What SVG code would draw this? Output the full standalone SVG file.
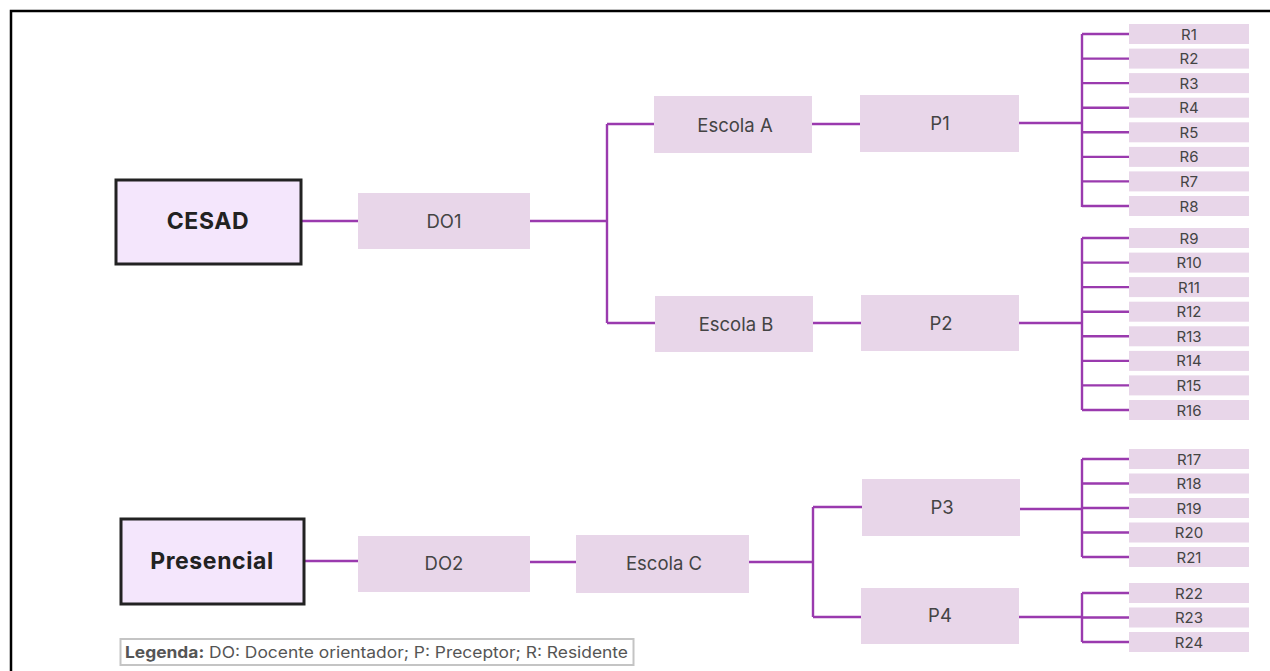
<svg xmlns="http://www.w3.org/2000/svg" width="1270" height="671" viewBox="0 0 1270 671">
<style>
.bx{fill:#e8d6e9;}
.root{fill:#f4e6fc;stroke:#222;stroke-width:3;}
.t{font-family:Inter,"Noto Sans",sans-serif;fill:#444;text-anchor:middle;dominant-baseline:central;}
.m{font-size:18.5px;}
.r{font-size:15px;}
.rt{font-size:23px;font-weight:700;fill:#222;letter-spacing:0.6px;}
.c{fill:none;stroke:#9a3aae;stroke-width:2.4;}
.lg{font-family:Inter,"Noto Sans",sans-serif;font-size:16px;fill:#555;}
</style>
<rect width="1270" height="671" fill="#fff"/>
<path d="M11 671V11H1270" fill="none" stroke="#000" stroke-width="2.5"/>

<g id="connectors">
<path class="c" d="M301 221H358M530 221H607M607 124V323M607 124H654M607 323H655M812 124H860M813 323H861"/>
<path class="c" d="M1019 123H1082M1082 34V207"/>
<path class="c" d="M1082 34H1129M1082 58.6H1129M1082 83.1H1129M1082 107.7H1129M1082 132.3H1129M1082 156.9H1129M1082 181.4H1129M1082 206H1129"/>
<path class="c" d="M1019 323H1082M1082 238V410"/>
<path class="c" d="M1082 238H1129M1082 262.6H1129M1082 287.1H1129M1082 311.7H1129M1082 336.3H1129M1082 360.9H1129M1082 385.4H1129M1082 410H1129"/>
<path class="c" d="M304 561H358M530 562H576M749 562H813M813 507V617M813 507H862M813 617H862"/>
<path class="c" d="M1020 509H1082M1082 459V557M1082 459H1129M1082 483.5H1129M1082 508H1129M1082 532.5H1129M1082 557H1129"/>
<path class="c" d="M1019 617H1082M1082 593V642M1082 593H1129M1082 617.5H1129M1082 642H1129"/>
</g>

<g id="cesad"><rect class="root" x="116" y="180" width="185" height="84"/><text class="t rt" x="208" y="221">CESAD</text></g>
<g id="presencial"><rect class="root" x="121" y="519" width="183" height="85"/><text class="t rt" x="212" y="561">Presencial</text></g>
<g id="do1"><rect class="bx" x="358" y="193" width="172" height="56"/><text class="t m" x="444" y="221">DO1</text></g>
<g id="do2"><rect class="bx" x="358" y="536" width="172" height="56"/><text class="t m" x="444" y="563">DO2</text></g>
<g id="escolaA"><rect class="bx" x="654" y="96" width="158" height="57"/><text class="t m" x="735" y="125">Escola A</text></g>
<g id="escolaB"><rect class="bx" x="655" y="296" width="158" height="56"/><text class="t m" x="736" y="324">Escola B</text></g>
<g id="escolaC"><rect class="bx" x="576" y="535" width="173" height="58"/><text class="t m" x="664" y="563">Escola C</text></g>
<g id="p1"><rect class="bx" x="860" y="95" width="159" height="57"/><text class="t m" x="940" y="123">P1</text></g>
<g id="p2"><rect class="bx" x="861" y="295" width="158" height="56"/><text class="t m" x="941" y="323">P2</text></g>
<g id="p3"><rect class="bx" x="862" y="479" width="158" height="57"/><text class="t m" x="942" y="507">P3</text></g>
<g id="p4"><rect class="bx" x="861" y="588" width="158" height="56"/><text class="t m" x="940" y="615">P4</text></g>

<g id="r1"><rect class="bx" x="1129" y="24" width="120" height="20"/><text class="t r" x="1189" y="34">R1</text></g>
<g id="r2"><rect class="bx" x="1129" y="48.6" width="120" height="20"/><text class="t r" x="1189" y="58.6">R2</text></g>
<g id="r3"><rect class="bx" x="1129" y="73.1" width="120" height="20"/><text class="t r" x="1189" y="83.1">R3</text></g>
<g id="r4"><rect class="bx" x="1129" y="97.7" width="120" height="20"/><text class="t r" x="1189" y="107.7">R4</text></g>
<g id="r5"><rect class="bx" x="1129" y="122.3" width="120" height="20"/><text class="t r" x="1189" y="132.3">R5</text></g>
<g id="r6"><rect class="bx" x="1129" y="146.9" width="120" height="20"/><text class="t r" x="1189" y="156.9">R6</text></g>
<g id="r7"><rect class="bx" x="1129" y="171.4" width="120" height="20"/><text class="t r" x="1189" y="181.4">R7</text></g>
<g id="r8"><rect class="bx" x="1129" y="196" width="120" height="20"/><text class="t r" x="1189" y="206">R8</text></g>

<g id="r9"><rect class="bx" x="1129" y="228" width="120" height="20"/><text class="t r" x="1189" y="238">R9</text></g>
<g id="r10"><rect class="bx" x="1129" y="252.6" width="120" height="20"/><text class="t r" x="1189" y="262.6">R10</text></g>
<g id="r11"><rect class="bx" x="1129" y="277.1" width="120" height="20"/><text class="t r" x="1189" y="287.1">R11</text></g>
<g id="r12"><rect class="bx" x="1129" y="301.7" width="120" height="20"/><text class="t r" x="1189" y="311.7">R12</text></g>
<g id="r13"><rect class="bx" x="1129" y="326.3" width="120" height="20"/><text class="t r" x="1189" y="336.3">R13</text></g>
<g id="r14"><rect class="bx" x="1129" y="350.9" width="120" height="20"/><text class="t r" x="1189" y="360.9">R14</text></g>
<g id="r15"><rect class="bx" x="1129" y="375.4" width="120" height="20"/><text class="t r" x="1189" y="385.4">R15</text></g>
<g id="r16"><rect class="bx" x="1129" y="400" width="120" height="20"/><text class="t r" x="1189" y="410">R16</text></g>

<g id="r17"><rect class="bx" x="1129" y="449" width="120" height="20"/><text class="t r" x="1189" y="459">R17</text></g>
<g id="r18"><rect class="bx" x="1129" y="473.5" width="120" height="20"/><text class="t r" x="1189" y="483.5">R18</text></g>
<g id="r19"><rect class="bx" x="1129" y="498" width="120" height="20"/><text class="t r" x="1189" y="508">R19</text></g>
<g id="r20"><rect class="bx" x="1129" y="522.5" width="120" height="20"/><text class="t r" x="1189" y="532.5">R20</text></g>
<g id="r21"><rect class="bx" x="1129" y="547" width="120" height="20"/><text class="t r" x="1189" y="557">R21</text></g>

<g id="r22"><rect class="bx" x="1129" y="583" width="120" height="20"/><text class="t r" x="1189" y="593">R22</text></g>
<g id="r23"><rect class="bx" x="1129" y="607.5" width="120" height="20"/><text class="t r" x="1189" y="617.5">R23</text></g>
<g id="r24"><rect class="bx" x="1129" y="632" width="120" height="20"/><text class="t r" x="1189" y="642">R24</text></g>

<g id="legend"><rect x="120.5" y="639" width="513" height="26" fill="#fff" stroke="#c4c4c4" stroke-width="2"/><text class="lg" x="125" y="657.5" textLength="503" lengthAdjust="spacingAndGlyphs"><tspan font-weight="700">Legenda:</tspan> DO: Docente orientador; P: Preceptor; R: Residente</text></g>
</svg>
